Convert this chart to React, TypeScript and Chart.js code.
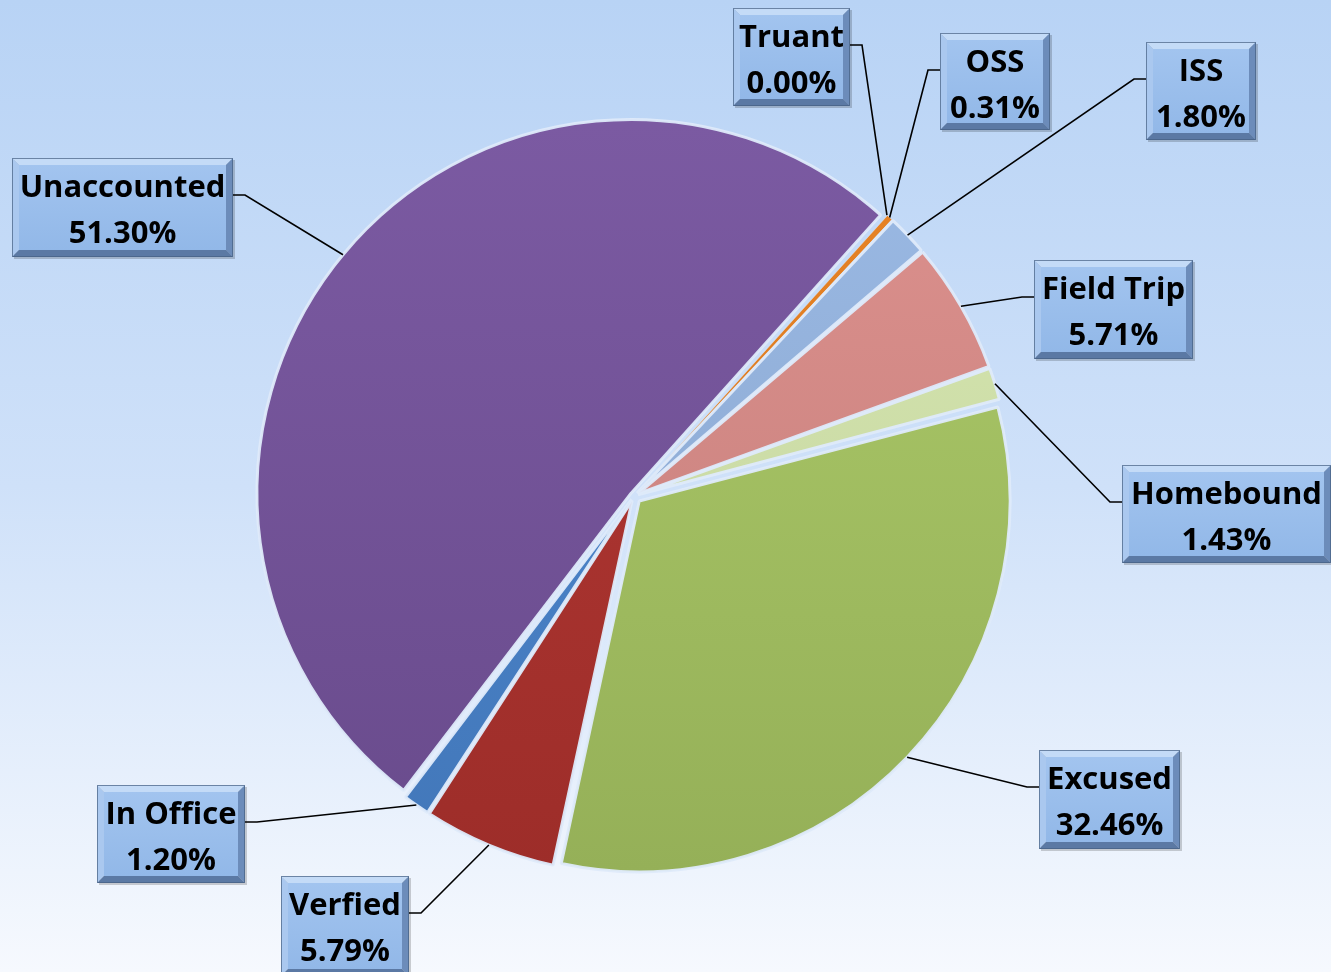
import { useEffect, useRef } from "react";
import { Chart, registerables } from "chart.js";
Chart.register(...registerables);

// ---- data ----
const categories = ["Truant", "OSS", "ISS", "Field Trip", "Homebound", "Excused", "Verfied", "In Office", "Unaccounted"];
const percentages = [0.0, 0.31, 1.8, 5.71, 1.43, 32.46, 5.79, 1.2, 51.3];

// ---- styles ----
const sliceColors = ["#e07a1f", "#e8801f", "#98b8e4", "#dc8e8a", "#d8e9b0", "#a9c864", "#b2332f", "#4b87d2", "#77559f"];
const sliceBorderWidths = [0, 0.5, 3, 3, 3, 3, 3, 3, 3];
const START_ROTATION = 42;
const PIE_RADIUS = 370;
const SLICE_SHIFT = 8;

// label box layout (x, y, w, h, which side the leader leaves from)
const labelBoxes = [
  { x: 733, y: 8, w: 117, h: 98, side: "right" },
  { x: 940, y: 33, w: 110, h: 97, side: "left" },
  { x: 1146, y: 42, w: 110, h: 98, side: "left" },
  { x: 1034, y: 260, w: 159, h: 99, side: "left" },
  { x: 1122, y: 465, w: 209, h: 98, side: "left" },
  { x: 1039, y: 750, w: 141, h: 99, side: "left" },
  { x: 281, y: 876, w: 128, h: 100, side: "right" },
  { x: 97, y: 785, w: 148, h: 98, side: "right" },
  { x: 12, y: 158, w: 221, h: 99, side: "right" },
];

function shade(hex: string, f: number) {
  const n = parseInt(hex.slice(1), 16);
  const c = [(n >> 16) & 255, (n >> 8) & 255, n & 255].map((v) =>
    Math.max(0, Math.min(255, Math.round(f >= 1 ? v + (255 - v) * (f - 1) : v * f)))
  );
  return `rgb(${c[0]},${c[1]},${c[2]})`;
}

function poly(ctx: CanvasRenderingContext2D, pts: number[][], fill: string) {
  ctx.beginPath();
  ctx.moveTo(pts[0][0], pts[0][1]);
  for (let i = 1; i < pts.length; i++) ctx.lineTo(pts[i][0], pts[i][1]);
  ctx.closePath();
  ctx.fillStyle = fill;
  ctx.fill();
}

function drawBevelBox(ctx: CanvasRenderingContext2D, x: number, y: number, w: number, h: number) {
  const b = 7;
  ctx.fillStyle = "rgba(0,0,0,0.18)";
  ctx.fillRect(x + 2, y + 2, w, h);
  poly(ctx, [[x, y], [x + w, y], [x + w - b, y + b], [x + b, y + b]], "#c4dbf7");
  poly(ctx, [[x, y], [x + b, y + b], [x + b, y + h - b], [x, y + h]], "#aac8ef");
  poly(ctx, [[x + w, y], [x + w, y + h], [x + w - b, y + h - b], [x + w - b, y + b]], "#6c8cba");
  poly(ctx, [[x, y + h], [x + b, y + h - b], [x + w - b, y + h - b], [x + w, y + h]], "#5b79a4");
  const g = ctx.createLinearGradient(0, y + b, 0, y + h - b);
  g.addColorStop(0, "#a2c4ef");
  g.addColorStop(1, "#92b8e8");
  ctx.fillStyle = g;
  ctx.fillRect(x + b, y + b, w - 2 * b, h - 2 * b);
  ctx.strokeStyle = "rgba(70,95,130,0.7)";
  ctx.lineWidth = 1;
  ctx.strokeRect(x + 0.5, y + 0.5, w - 1, h - 1);
}

const backgroundPlugin = {
  id: "bgGradient",
  beforeDraw(chart: any) {
    const { ctx, width, height } = chart;
    const g = ctx.createLinearGradient(0, 0, 0, height);
    g.addColorStop(0, "#b8d3f5");
    g.addColorStop(0.5, "#cfe1f9");
    g.addColorStop(1, "#f6f9fe");
    ctx.save();
    ctx.fillStyle = g;
    ctx.fillRect(0, 0, width, height);
    ctx.restore();
  },
};

const labelPlugin = {
  id: "calloutLabels",
  afterDraw(chart: any) {
    const ctx: CanvasRenderingContext2D = chart.ctx;
    const meta = chart.getDatasetMeta(0);
    ctx.save();
    meta.data.forEach((arc: any, i: number) => {
      const box = labelBoxes[i];
      const p = arc.getProps(["x", "y", "startAngle", "endAngle", "outerRadius"], true);
      const mid = (p.startAngle + p.endAngle) / 2;
      const R = p.outerRadius + SLICE_SHIFT;
      const px = p.x + Math.cos(mid) * R;
      const py = p.y + Math.sin(mid) * R;
      const ay = box.y + 37;
      const ax = box.side === "right" ? box.x + box.w : box.x;
      const ex = box.side === "right" ? ax + 12 : ax - 12;
      ctx.beginPath();
      ctx.moveTo(ax, ay);
      ctx.lineTo(ex, ay);
      ctx.lineTo(px, py);
      ctx.strokeStyle = "#000";
      ctx.lineWidth = 1.6;
      ctx.stroke();
    });
    meta.data.forEach((_arc: any, i: number) => {
      const box = labelBoxes[i];
      drawBevelBox(ctx, box.x, box.y, box.w, box.h);
      ctx.fillStyle = "#000";
      ctx.font = 'bold 31px "Open Sans", "DejaVu Sans", sans-serif';
      ctx.textAlign = "center";
      ctx.textBaseline = "middle";
      const cx = box.x + box.w / 2;
      ctx.fillText(categories[i], cx, box.y + 30);
      ctx.fillText(percentages[i].toFixed(2) + "%", cx, box.y + 76);
    });
    ctx.restore();
  },
};

export default function App() {
  const ref = useRef<HTMLCanvasElement | null>(null);
  useEffect(() => {
    document.body.style.margin = "0";
    const canvas = ref.current!;
    const total = percentages.reduce((a, b) => a + b, 0);
    const chart = new Chart(canvas, {
      type: "pie",
      data: {
        labels: categories,
        datasets: [
          {
            data: percentages,
            backgroundColor: (c: any) => {
              const base = sliceColors[c.dataIndex];
              const area = c.chart.chartArea;
              if (!area) return base;
              const cy = (area.top + area.bottom) / 2;
              const g = c.chart.ctx.createLinearGradient(0, cy - PIE_RADIUS, 0, cy + PIE_RADIUS);
              g.addColorStop(0, shade(base, 1.03));
              g.addColorStop(1, shade(base, 0.88));
              return g;
            },
            borderColor: "rgba(222,234,250,0.95)",
            borderWidth: (c: any) => sliceBorderWidths[c.dataIndex],
            offset: (c: any) => {
              const v = percentages[c.dataIndex] || 0;
              const circ = (v / total) * Math.PI * 2;
              const fix = 1 - Math.sin(Math.min(Math.PI, circ));
              return (SLICE_SHIFT * 4) / (1 + fix);
            },
          },
        ],
      },
      options: {
        responsive: false,
        animation: false,
        rotation: START_ROTATION,
        radius: PIE_RADIUS,
        layout: { padding: { left: 0, right: 63, top: 20, bottom: 0 } },
        plugins: { legend: { display: false }, tooltip: { enabled: false } },
        events: [],
      } as any,
      plugins: [backgroundPlugin, labelPlugin],
    });
    if ((document as any).fonts) {
      (document as any).fonts.load('bold 31px "Open Sans"').then(() => chart.draw()).catch(() => {});
    }
    return () => chart.destroy();
  }, []);
  return <canvas ref={ref} width={1331} height={972} style={{ display: "block" }} />;
}
